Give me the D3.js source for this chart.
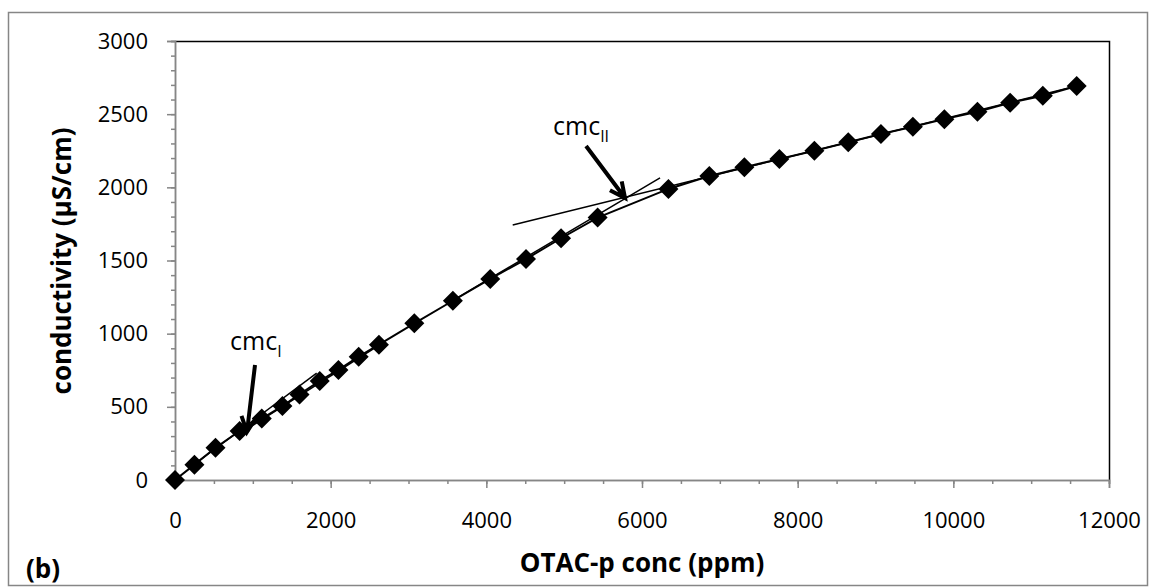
<!DOCTYPE html>
<html>
<head>
<meta charset="utf-8">
<script src="https://cdnjs.cloudflare.com/ajax/libs/d3/7.8.5/d3.min.js"></script>
<style>
  body { margin: 0; background: #fff; }
  svg text { font-family: "Open Sans", sans-serif; fill: #000; }
</style>
</head>
<body>
<div id="chart"></div>
<script>
// conductivity vs OTAC-p concentration
var concPpm = [0, 250, 520, 830, 1115, 1380, 1600, 1860, 2100, 2360, 2620, 3075, 3570, 4050, 4510, 4960, 5430, 6340, 6865, 7315, 7765, 8215, 8650, 9070, 9480, 9885, 10310, 10730, 11150, 11585];
var conductivity = [0, 105, 220, 335, 420, 505, 585, 677, 752, 843, 925, 1071, 1225, 1374, 1510, 1652, 1793, 1989, 2077, 2137, 2194, 2250, 2308, 2364, 2414, 2466, 2517, 2578, 2626, 2693];

var xMajorTicks = [0, 2000, 4000, 6000, 8000, 10000, 12000];
var yMajorTicks = [0, 500, 1000, 1500, 2000, 2500, 3000];

// straight fit lines drawn for the two cmc breaks (end points in data units)
var fitCmc1a = [[300, 128], [1820, 730]];
var fitCmc1b = [[900, 340], [2700, 948]];
var fitCmc2a = [[3500, 1205], [6232, 2064]];
var fitCmc2b = [[4339, 1743], [11585, 2692]];

// arrows: [start, tip] in data units
var arrowCmc1 = [[1028, 786], [925, 328]];
var arrowCmc2 = [[5281, 2282], [5782, 1927]];
var labelCmc1 = {text: "cmc", sub: "I", at: [707, 888]};
var labelCmc2 = {text: "cmc", sub: "II", at: [4857, 2358]};

var W = 1150, H = 588;
var plotL = 175, plotR = 1109, plotT = 41, plotB = 480;
var axisGrey = "#868686";

var svg = d3.select("#chart").append("svg").attr("width", W).attr("height", H);

// outer chart frame
svg.append("rect")
	.attr("x", 8.5).attr("y", 12.5)
	.attr("width", 1139).attr("height", 573)
	.attr("fill", "none").attr("stroke", axisGrey).attr("stroke-width", 1.5);

var x = d3.scaleLinear().domain([0, 12000]).range([plotL, plotR]);
var y = d3.scaleLinear().domain([0, 3000]).range([plotB, plotT]);

// plot area border (top + right in black)
svg.append("path")
	.attr("d", "M" + plotL + "," + (plotT + 0.5) + "H" + (plotR + 0.5) + "V" + plotB)
	.attr("fill", "none").attr("stroke", "#000").attr("stroke-width", 1.5);

// minor ticks
var yMinor = svg.append("g").attr("transform", "translate(" + plotL + ",0)")
	.call(d3.axisLeft(y).tickValues(d3.range(0, 3001, 100)).tickSize(4).tickFormat(""));
var xMinor = svg.append("g").attr("transform", "translate(0," + plotB + ")")
	.call(d3.axisBottom(x).tickValues(d3.range(0, 12001, 500)).tickSize(4).tickFormat(""));

// major ticks + labels
var yAxis = svg.append("g").attr("transform", "translate(" + plotL + ",0)")
	.call(d3.axisLeft(y).tickValues(yMajorTicks).tickSize(8).tickPadding(19).tickFormat(d3.format("d")));
var xAxis = svg.append("g").attr("transform", "translate(0," + plotB + ")")
	.call(d3.axisBottom(x).tickValues(xMajorTicks).tickSize(8).tickPadding(24).tickFormat(d3.format("d")));

[yMinor, xMinor, yAxis, xAxis].forEach(function(g) {
	g.selectAll("path.domain").attr("stroke", axisGrey).attr("stroke-width", 1.5);
	g.selectAll(".tick line").attr("stroke", axisGrey).attr("stroke-width", 1.5);
	g.selectAll("text").attr("font-size", "22px").attr("font-family", "Open Sans, sans-serif").attr("fill", "#000");
});

// axis titles
svg.append("text")
	.attr("x", (plotL + plotR) / 2).attr("y", 572)
	.attr("text-anchor", "middle")
	.attr("font-size", "26px").attr("font-weight", "bold")
	.text("OTAC-p conc (ppm)");

svg.append("text")
	.attr("transform", "translate(71,261) rotate(-90)")
	.attr("text-anchor", "middle")
	.attr("font-size", "26px").attr("font-weight", "bold")
	.text("conductivity (µS/cm)");

svg.append("text")
	.attr("x", 26).attr("y", 578)
	.attr("font-size", "26px").attr("font-weight", "bold")
	.text("(b)");

// fit lines
var line = d3.line().x(function(d) { return x(d[0]); }).y(function(d) { return y(d[1]); });
[fitCmc1a, fitCmc1b, fitCmc2a, fitCmc2b].forEach(function(f) {
	svg.append("path").attr("d", line(f))
		.attr("fill", "none").attr("stroke", "#000").attr("stroke-width", 1.5);
});

// data line + diamond markers
var pts = concPpm.map(function(c, i) { return [c, conductivity[i]]; });
svg.append("path").attr("d", line(pts))
	.attr("fill", "none").attr("stroke", "#000").attr("stroke-width", 2);

svg.selectAll("path.marker")
	.data(pts)
	.enter()
	.append("path")
	.attr("class", "marker")
	.attr("d", d3.symbol().type(d3.symbolSquare).size(200))
	.attr("transform", function(d) { return "translate(" + x(d[0]) + "," + y(d[1]) + ") rotate(45)"; })
	.attr("fill", "#000");

// arrows
function drawArrow(a) {
	var x0 = x(a[0][0]), y0 = y(a[0][1]), x1 = x(a[1][0]), y1 = y(a[1][1]);
	var ang = Math.atan2(y1 - y0, x1 - x0);
	var len = 17, spread = Math.PI / 7;
	var w1 = [x1 - len * Math.cos(ang - spread), y1 - len * Math.sin(ang - spread)];
	var w2 = [x1 - len * Math.cos(ang + spread), y1 - len * Math.sin(ang + spread)];
	svg.append("path")
		.attr("d", "M" + x0 + "," + y0 + "L" + x1 + "," + y1 + "M" + w1 + "L" + x1 + "," + y1 + "L" + w2)
		.attr("fill", "none").attr("stroke", "#000").attr("stroke-width", 4);
}
drawArrow(arrowCmc1);
drawArrow(arrowCmc2);

function drawLabel(l) {
	var t = svg.append("text")
		.attr("x", x(l.at[0])).attr("y", y(l.at[1]))
		.attr("font-size", "25px");
	t.append("tspan").text(l.text);
	t.append("tspan").attr("dy", 7).attr("font-size", "16px").text(l.sub);
}
drawLabel(labelCmc1);
drawLabel(labelCmc2);
</script>
</body>
</html>
